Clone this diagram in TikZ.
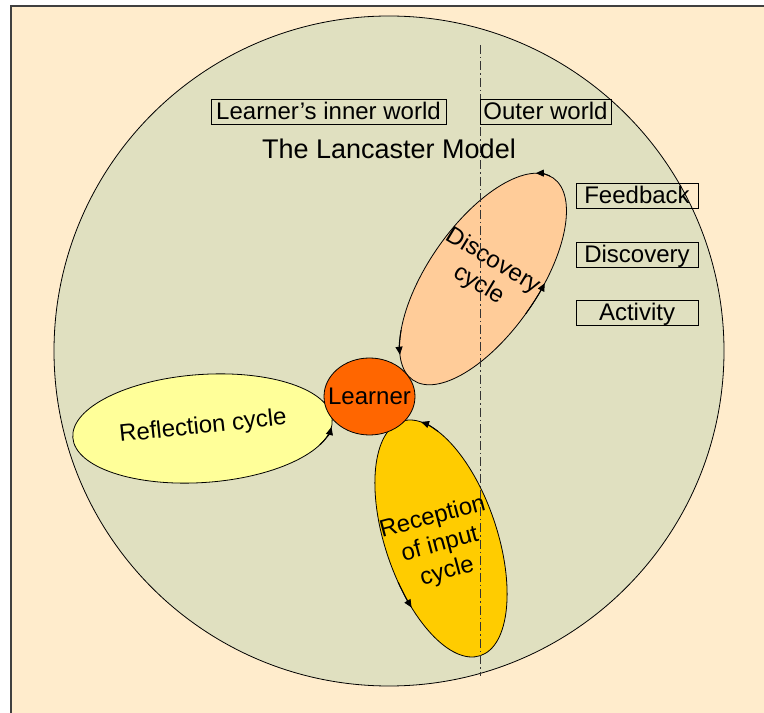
\documentclass[tikz,border=0pt]{standalone}
\usepackage{fontspec}
\setmainfont{Liberation Sans}
\usetikzlibrary{arrows.meta,shapes.geometric}
\definecolor{page}{HTML}{FFECCC}
\definecolor{world}{HTML}{E0E0C0}
\definecolor{reflect}{HTML}{FFFF99}
\definecolor{discover}{HTML}{FFCC99}
\definecolor{receive}{HTML}{FFCC00}
\definecolor{learner}{HTML}{FF6600}
\tikzset{
  outline/.style={draw=black, line width=0.8pt},
  cyclearrow/.style={draw=black, line width=1pt, -{Triangle[length=8pt,width=7pt]}},
  tag/.style={draw=black, line width=0.8pt, inner sep=0pt, minimum height=25pt,
    text height=16pt, text depth=0pt, font=\fontsize{24}{27}\selectfont},
  cyclelabel/.style={align=center, inner sep=0pt, font=\fontsize{24}{28}\selectfont},
  divider/.style={draw=black!80, line width=0.8pt, dash pattern=on 9pt off 3pt on 1.5pt off 3pt}
}
\begin{document}
\begin{tikzpicture}[x=1pt,y=1pt]
\useasboundingbox (0,0) rectangle (764,713);
\fill[white] (0,0) rectangle (764,713);
% page frame
\fill[page] (11,0) rectangle (764,707);
\draw[line width=1.5pt, black!75] (11,0) -- (11,707) -- (764,707);
% the world circle
\draw[outline, fill=world] (389,362) circle[radius=335pt];

% reflection cycle
\begin{scope}[shift={(202.5,284.5)}, rotate=4]
  \draw[outline, fill=reflect] (0,0) ellipse[x radius=130pt, y radius=54pt];
  \draw[cyclearrow] (-27:130pt and 54pt) arc[start angle=-27, end angle=-8, x radius=130pt, y radius=54pt];
\end{scope}

% discovery cycle
\begin{scope}[shift={(483,434)}, rotate=55.2]
  \draw[outline, fill=discover] (0,0) ellipse[x radius=123pt, y radius=55pt];
  \draw[cyclearrow] (4:123pt and 55pt) arc[start angle=4, end angle=18, x radius=123pt, y radius=55pt];
  \draw[cyclearrow] (-92:123pt and 55pt) arc[start angle=-92, end angle=-75, x radius=123pt, y radius=55pt];
  \draw[cyclearrow] (136:123pt and 55pt) arc[start angle=136, end angle=153, x radius=123pt, y radius=55pt];
\end{scope}

% reception of input cycle
\begin{scope}[shift={(441,174.5)}, rotate=108.6]
  \draw[outline, fill=receive] (0,0) ellipse[x radius=123.6pt, y radius=56pt];
  \draw[cyclearrow] (-34:123.6pt and 56pt) arc[start angle=-34, end angle=-19, x radius=123.6pt, y radius=56pt];
  \draw[cyclearrow] (103:123.6pt and 56pt) arc[start angle=103, end angle=117, x radius=123.6pt, y radius=56pt];
\end{scope}

% the learner
\node[ellipse, outline, fill=learner, minimum width=91pt, minimum height=77pt, inner sep=0pt] (learner) at (369.5,316.5) {};
\node[inner sep=0pt, font=\fontsize{24}{27}\selectfont] (learnertext) at (learner) {Learner};

% cycle names
\node[cyclelabel, rotate=6] (reflectlabel) at (203,286) {Reflection cycle};
\node[cyclelabel, rotate=-31] (discoverlabel) at (486,440) {Discovery\\cycle};
\node[cyclelabel, rotate=15] (receivelabel) at (440,168) {Reception\\of input\\cycle};

% boundary between inner and outer world
\coordinate (divtop) at (480,668);
\coordinate (divbot) at (480,37);
\draw[divider] (divtop) -- (divbot);

% headings
\node[tag, minimum width=235pt] (inner) at (328.5,601.5) {Learner’s inner world};
\node[tag, minimum width=131pt] (outer) at (545.5,601.5) {Outer world};
\node[inner sep=0pt, font=\fontsize{27}{30}\selectfont] (title) at (389,564) {The Lancaster Model};

% outer world activities
\node[tag, minimum width=122pt] (feedback) at (637,517.5) {Feedback};
\node[tag, minimum width=122pt] (discovery) at (637,458.5) {Discovery};
\node[tag, minimum width=122pt] (activity) at (637,400) {Activity};
\end{tikzpicture}
\end{document}
